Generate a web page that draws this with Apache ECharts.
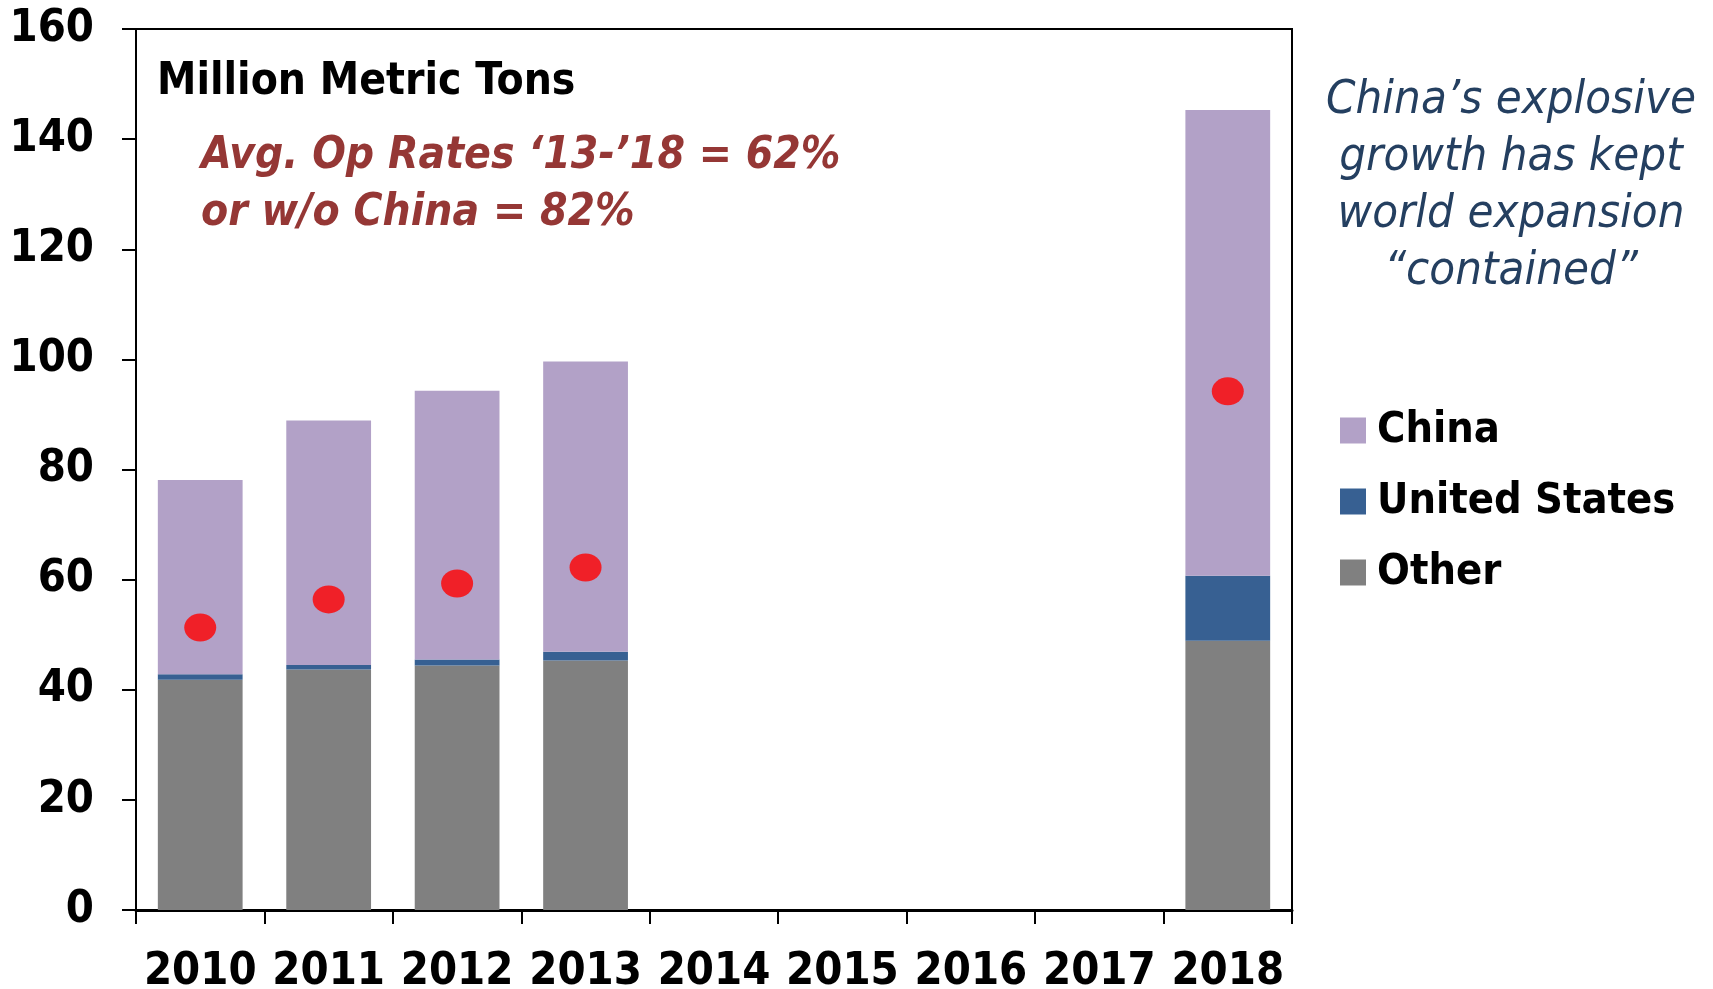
<!DOCTYPE html>
<html>
<head>
<meta charset="utf-8">
<script src="https://cdn.jsdelivr.net/npm/echarts@6/dist/echarts.min.js"></script>
<style>
html,body{margin:0;padding:0;background:#fff;}
#chart{width:1713px;height:989px;}
</style>
</head>
<body>
<div id="chart"></div>
<script>
const categories = ['2010','2011','2012','2013','2014','2015','2016','2017','2018'];
const otherValues = [41.8, 43.7, 44.4, 45.3, null, null, null, null, 48.9];
const usValues    = [1.0, 0.8, 1.1, 1.6, null, null, null, null, 11.8];
const chinaValues = [35.3, 44.4, 48.8, 52.7, null, null, null, null, 84.6];
const opRateValues = [51.3, 56.4, 59.3, 62.2, null, null, null, null, 94.2];
const yTicks = [0, 20, 40, 60, 80, 100, 120, 140, 160];

const FONT = "'DejaVu Sans Condensed', 'DejaVu Sans', sans-serif";

const chart = echarts.init(document.getElementById('chart'), null, {renderer: 'canvas'});
chart.setOption({
  animation: false,
  backgroundColor: '#fff',
  grid: {left: 136, right: 421, top: 29, bottom: 79, outerBoundsMode: 'none', containLabel: false,
    show: true, borderColor: '#000', borderWidth: 2, backgroundColor: 'transparent'},
  legend: {
    orient: 'vertical',
    left: 1335, top: 404,
    itemWidth: 26, itemHeight: 26, itemGap: 28,
    icon: 'rect',
    data: ['China', 'United States', 'Other'],
    textStyle: {fontFamily: FONT, fontWeight: 'bold', fontSize: 43, color: '#000', padding: [0,0,0,6]}
  },
  xAxis: {
    type: 'category',
    data: categories,
    boundaryGap: true,
    axisLine: {show: true, lineStyle: {color: '#000', width: 3}},
    axisTick: {show: true, alignWithLabel: false, length: 14, inside: false, lineStyle: {color: '#000', width: 2}},
    axisLabel: {fontFamily: FONT, fontWeight: 'bold', fontSize: 45, color: '#000', margin: 40, interval: 0},
    splitLine: {show: false}
  },
  yAxis: {
    type: 'value',
    min: 0, max: 160, interval: 20,
    axisLine: {show: true, lineStyle: {color: '#000', width: 2}},
    axisTick: {show: true, length: 14, lineStyle: {color: '#000', width: 2}},
    axisLabel: {fontFamily: FONT, fontWeight: 'bold', fontSize: 45, color: '#000', margin: 42,
      formatter: v => yTicks.includes(v) ? String(v) : ''},
    splitLine: {show: false}
  },
  series: [
    {name: 'Other', type: 'bar', stack: 'cap', data: otherValues, barCategoryGap: '34%',
      itemStyle: {color: '#808080'}},
    {name: 'United States', type: 'bar', stack: 'cap', data: usValues,
      itemStyle: {color: '#376092'}},
    {name: 'China', type: 'bar', stack: 'cap', data: chinaValues,
      itemStyle: {color: '#B2A1C7'}},
    {name: 'Op Rate', type: 'scatter', data: opRateValues, symbol: 'circle', symbolSize: [32, 28],
      itemStyle: {color: '#FF0000'}, z: 5}
  ],
  graphic: [
    {type: 'text', left: 157, top: 61, style: {text: 'Million Metric Tons', fontFamily: FONT, fontWeight: 'bold', fontSize: 44, fill: '#000'}},
    {type: 'text', left: 201, top: 128, style: {text: 'Avg. Op Rates \u201813-\u201918 = 62%\nor w/o China = 82%', fontFamily: FONT, fontStyle: 'italic', fontWeight: 'bold', fontSize: 44, lineHeight: 57, fill: '#953735'}},
    {type: 'text', x: 1511, y: 72, style: {text: 'China\u2019s explosive\ngrowth has kept\nworld expansion\n\u201Ccontained\u201D', fontFamily: FONT, fontStyle: 'italic', fontSize: 47, lineHeight: 57, fill: '#243F60', align: 'center', verticalAlign: 'top'}}
  ]
});
</script>
</body>
</html>
